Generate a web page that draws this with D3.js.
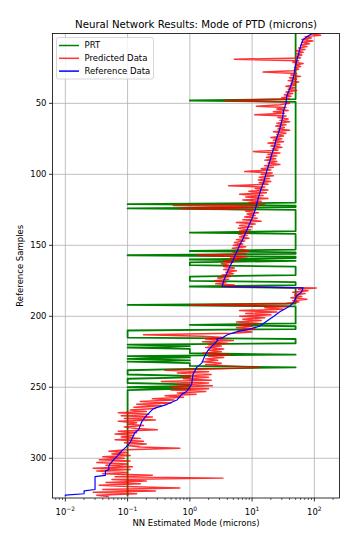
<!DOCTYPE html>
<html><head><meta charset="utf-8">
<script src="https://cdn.jsdelivr.net/npm/d3@7"></script>
<style>body{margin:0;background:#fff;} svg{display:block;font-family:"DejaVu Sans",sans-serif;}</style>
</head><body><svg id="c" width="356" height="540"></svg>
<script>
const title = "Neural Network Results: Mode of PTD (microns)";
const xLabel = "NN Estimated Mode (microns)";
const yLabel = "Reference Samples";
const seriesNames = ["PRT", "Predicted Data", "Reference Data"];
const seriesColors = ["#008000", "#ff0000", "#0000ff"];
const xTickValues = [0.01, 0.1, 1, 10, 100];
const xTickExponents = ["\u22122", "\u22121", "0", "1", "2"];
const yTickValues = [50, 100, 150, 200, 250, 300];

// PRT value for each reference sample (index = sample)
const prt = [
50,50,50,50,50,50,50,50,50,50,
50,50,50,50,50,50,50,50,50,50,
50,50,50,50,50,50,50,50,50,50,
50,50,50,50,50,50,50,50,50,50,
50,50,50,50,50,50,50,50,1,50,
50,50,50,50,50,50,50,50,50,50,
50,50,50,50,50,50,50,50,50,50,
50,50,50,50,50,50,50,50,50,50,
50,50,50,50,50,50,50,50,50,50,
50,50,50,50,50,50,50,50,50,50,
50,50,50,50,50,50,50,50,50,50,
50,50,50,50,50,50,50,50,50,50,
50,0.1,50,50,0.1,50,50,50,50,50,
50,50,50,50,50,50,50,50,50,50,
50,1,50,50,50,50,50,50,50,50,
50,50,50,50,1,50,50,0.1,50,50,
1,50,1,1,1,50,50,50,50,50,
50,50,1,1,1,1,50,50,50,1,
50,50,50,50,50,50,50,50,50,50,
50,50,0.1,50,50,50,50,50,50,50,
50,50,50,50,50,50,1,50,50,50,
0.1,0.1,0.1,0.1,0.1,0.1,50,50,50,50,
0.1,1,0.1,1,1,1,1,50,0.1,1,
0.1,1,0.1,1,1,1,50,1,0.1,0.1,
0.1,0.1,1,1,0.1,0.1,0.1,0.1,1,1,
0.1,1,0.1,0.1,0.1,0.1,0.1,0.1,0.1,0.1,
0.1,0.1,0.1,0.1,0.1,0.1,0.1,0.1,0.1,0.1,
0.1,0.1,0.1,0.1,0.1,0.1,0.1,0.1,0.1,0.1,
0.1,0.1,0.1,0.1,0.1,0.1,0.1,0.1,0.1,0.1,
0.1,0.1,0.1,0.1,0.1,0.1,0.1,0.1,0.1,0.1,
0.1,0.1,0.1,0.1,0.1,0.1,0.1,0.1,0.1,0.1,
0.1,0.1,0.1,0.1,0.1,0.1,0.1,0.1,0.1,0.1,
0.1,0.1,0.1,0.1,0.1,0.1,0.1,0.1
];

// Predicted mode for each reference sample (index = sample)
const predicted = [
155,89,126,71,89,63,95,63,83,60,
76,56,71,50,66,52,63,50,60,5.2,
56,45,66,50,60,48,56,45,15,52,
42,60,40,52,38,56,42,50,35,48,
38,52,35,45,33,42,30,40,3.6,35,
40,28,11.7,35,25,38,22,33,11,35,
26,38,28,40,25,35,24,33,26,40,
22,35,25,32,20,30,22,32,18,28,
20,30,21,26,10.5,28,18,25,17,24,
16,25,18,28,16,22,14,20,7.6,21,
14,22,13,19,12.6,20,13,18,4.2,16,
11.2,18,8.9,17,6.3,15,7.9,18,7.1,14,
8.9,16,0.54,12.6,0.69,11.2,7.9,12.6,8.3,11.2,
7.6,12,7.1,14,5.6,11.2,6.3,10,6.0,9.5,
6.3,8.9,6.0,8.3,6.3,8.9,5.6,7.6,5.2,7.1,
5.0,7.9,4.8,7.1,8.9,5.0,7.9,1.3,8.3,4.5,
6.6,3.5,5.0,3.2,4.2,3.5,5.2,3.5,5.6,3.8,
5.0,3.3,4.5,2.8,4.2,2.5,3.8,2.6,5.2,3.2,
107,56,79,45,71,48,63,42,76,45,
56,35,1.0,40,16,32,6.3,25,7.9,20,
6.3,16,7.1,14,5.6,12.6,6.3,10,5.6,11.2,
6.0,10,5.0,0.18,1.6,3.5,1.8,5.0,1.6,4.0,
2.0,3.2,1.8,3.5,2.0,3.2,1.6,4.5,2.0,3.5,
1.8,2.8,1.6,3.2,1.8,4.0,13,2.5,0.40,2.0,
0.63,2.2,0.71,2.0,0.79,2.2,0.35,2.0,0.63,2.3,
0.50,2.0,0.50,1.8,0.63,1.26,0.40,0.79,0.25,0.56,
0.16,0.50,0.14,0.35,0.126,0.28,0.11,0.20,0.071,0.22,
0.079,0.25,0.089,0.28,0.071,0.14,0.10,0.18,0.089,0.14,
0.30,0.071,0.14,0.063,0.126,0.079,0.16,0.063,0.18,0.089,
0.20,0.10,0.16,0.69,0.095,0.05,0.10,0.056,0.11,0.04,
0.089,0.035,0.11,0.032,0.10,0.045,0.12,0.028,0.11,0.032,
0.10,0.04,0.25,0.063,3.4,0.056,0.20,0.045,0.16,0.035,
0.126,0.69,0.04,0.28,0.028,0.14,0.032,0.05
];

// Reference data, read at selected samples
const refSamples = [0,2,5,10,15,20,25,30,35,40,45,50,55,60,65,70,75,80,85,90,95,100,105,110,115,120,125,130,135,140,145,150,155,160,165,170,175,179,
  180,183,186,190,193,197,200,203,207,209,211,213,215,216,217,220,224,228,233,236,241,248,253,255,259,262,265,270,274,280,282,289,292,295,298,301,305,308,309,312,313,322,323,325,326,327];
const refValues = [98,83,66,60,56,52,49,47,44,40,36,35,32,31,29,27,24.5,23,21,19.5,18,16.6,15.5,14,12.9,12,11.2,10.2,9.1,8.1,7.2,6.3,5.6,5.0,4.4,3.9,3.5,3.3,
  66,62,51,47,40,27.5,22.4,17.8,13.2,9.1,5.6,4.0,3.4,2.7,2.8,2.4,1.95,1.74,1.55,1.29,1.12,1.07,0.89,0.74,0.62,0.43,0.26,0.20,0.17,0.15,0.13,0.11,0.095,0.08,0.07,0.06,0.05,0.05,0.044,0.044,0.03,0.03,0.02,0.02,0.01,0.01];

const svg = d3.select("#c");
const L = 52.5, R = 339.5, T = 33.5, B = 498;
const x = d3.scaleLog().domain([0.00622, 253.5]).range([L, R]);
const y = d3.scaleLinear().domain([0.8, 328]).range([T, B]);

svg.append("rect").attr("width", 356).attr("height", 540).attr("fill", "#fff");

// grid
const grid = svg.append("g").attr("stroke", "#b0b0b0").attr("stroke-width", 0.8);
xTickValues.forEach(v => grid.append("line").attr("x1", x(v)).attr("x2", x(v)).attr("y1", T).attr("y2", B));
yTickValues.forEach(v => grid.append("line").attr("x1", L).attr("x2", R).attr("y1", y(v)).attr("y2", y(v)));

svg.append("defs").append("clipPath").attr("id", "clip")
  .append("rect").attr("x", L).attr("y", T).attr("width", R - L).attr("height", B - T);

const plot = svg.append("g").attr("clip-path", "url(#clip)");
const lineIdx = arr => d3.line().x(d => x(d)).y((d, i) => y(i))(arr);

plot.append("path").attr("d", lineIdx(prt)).attr("fill", "none")
  .attr("stroke", seriesColors[0]).attr("stroke-width", 1.8).attr("stroke-linejoin", "round");
plot.append("path").attr("d", lineIdx(predicted)).attr("fill", "none")
  .attr("stroke", seriesColors[1]).attr("stroke-opacity", 0.8).attr("stroke-width", 1.5).attr("stroke-linejoin", "round");
const refLine = d3.line().x(d => x(d[1])).y(d => y(d[0]));
plot.append("path").attr("d", refLine(refSamples.map((s, i) => [s, refValues[i]]))).attr("fill", "none")
  .attr("stroke", seriesColors[2]).attr("stroke-width", 1.2).attr("stroke-linejoin", "round");

// axes
const xAxisG = svg.append("g").attr("transform", `translate(0,${B})`);
const minor = [];
for (let e = -3; e <= 2; e++) for (let m = 2; m <= 9; m++) { const v = m * Math.pow(10, e); if (v > x.domain()[0] && v < x.domain()[1]) minor.push(v); }
minor.forEach(v => xAxisG.append("line").attr("x1", x(v)).attr("x2", x(v)).attr("y1", 0).attr("y2", 2).attr("stroke", "#000").attr("stroke-width", 0.6));
xTickValues.forEach((v, i) => {
  xAxisG.append("line").attr("x1", x(v)).attr("x2", x(v)).attr("y1", 0).attr("y2", 3.5).attr("stroke", "#000").attr("stroke-width", 0.8);
  const t = xAxisG.append("text").attr("x", x(v)).attr("y", 17).attr("text-anchor", "middle").attr("font-size", 8.5).attr("fill", "#000");
  t.append("tspan").text("10");
  t.append("tspan").attr("dy", -4).attr("font-size", 6).text(xTickExponents[i]);
});
const yAxisG = svg.append("g");
yTickValues.forEach(v => {
  yAxisG.append("line").attr("x1", L - 3.5).attr("x2", L).attr("y1", y(v)).attr("y2", y(v)).attr("stroke", "#000").attr("stroke-width", 0.8);
  yAxisG.append("text").attr("x", L - 6).attr("y", y(v)).attr("dy", "0.35em").attr("text-anchor", "end").attr("font-size", 8.5).attr("fill", "#000").text(v);
});

svg.append("rect").attr("x", L).attr("y", T).attr("width", R - L).attr("height", B - T)
  .attr("fill", "none").attr("stroke", "#000").attr("stroke-width", 0.8);

svg.append("text").attr("x", (L + R) / 2).attr("y", 28).attr("text-anchor", "middle").attr("font-size", 10.2).attr("fill", "#000").text(title);
svg.append("text").attr("x", (L + R) / 2).attr("y", 526).attr("text-anchor", "middle").attr("font-size", 8.5).attr("fill", "#000").text(xLabel);
svg.append("text").attr("transform", `translate(23,${(T + B) / 2}) rotate(-90)`).attr("text-anchor", "middle").attr("font-size", 8.5).attr("fill", "#000").text(yLabel);

// legend
const lg = svg.append("g");
lg.append("rect").attr("x", 56.5).attr("y", 37.5).attr("width", 97).attr("height", 41.5).attr("rx", 2)
  .attr("fill", "#fff").attr("fill-opacity", 0.8).attr("stroke", "#cccccc").attr("stroke-width", 0.8);
seriesNames.forEach((n, i) => {
  const yy = 45.5 + i * 12.8;
  lg.append("line").attr("x1", 59).attr("x2", 79).attr("y1", yy).attr("y2", yy)
    .attr("stroke", seriesColors[i]).attr("stroke-width", 1.5).attr("stroke-opacity", i === 1 ? 0.8 : 1);
  lg.append("text").attr("x", 84.5).attr("y", yy).attr("dy", "0.35em").attr("font-size", 8.5).attr("fill", "#000").text(n);
});
</script></body></html>
